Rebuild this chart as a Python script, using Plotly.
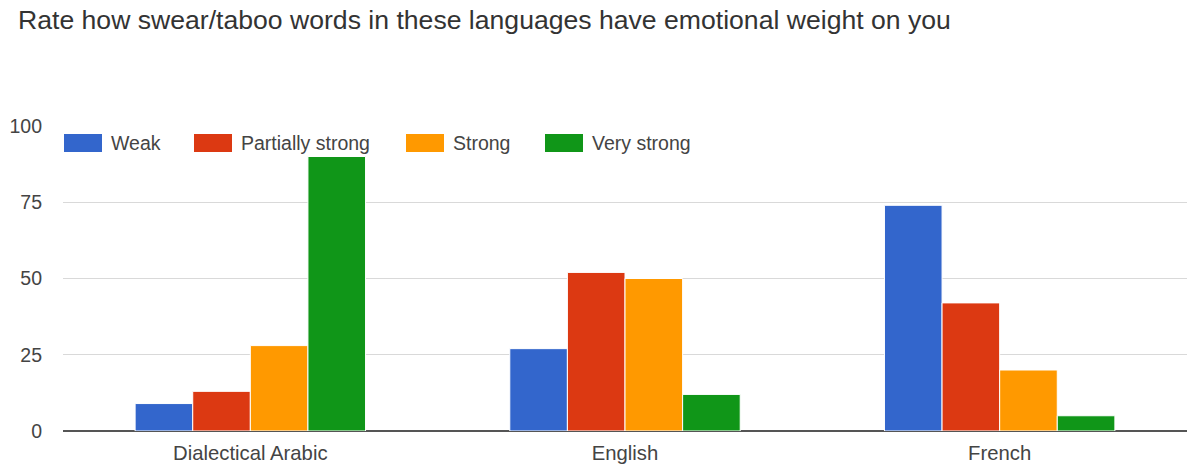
import plotly.graph_objects as go

# Survey responses per language and rating level
languages = ["Dialectical Arabic", "English", "French"]
ratings = ["Weak", "Partially strong", "Strong", "Very strong"]
weak = [9, 27, 74]
partially_strong = [13, 52, 42]
strong = [28, 50, 20]
very_strong = [90, 12, 5]
y_ticks = [0, 25, 50, 75, 100]

colors = ["#3366cc", "#dc3912", "#ff9900", "#109618"]
series = [weak, partially_strong, strong, very_strong]
FONT = "Arial, 'Liberation Sans', sans-serif"

fig = go.Figure()
for name, values, color in zip(ratings, series, colors):
    fig.add_trace(go.Bar(
        name=name, x=languages, y=values,
        marker=dict(color=color, line=dict(color="white", width=1)),
        showlegend=False,
    ))

# Legend drawn as wide swatches along the top gridline
legend_x = [64, 194, 406, 545]
W, H = 1187, 467
ml, mr, mt, mb = 63, 0, 126, 36
shapes = []
annotations = []
for lx, name, color in zip(legend_x, ratings, colors):
    shapes.append(dict(
        type="rect", xref="paper", yref="paper",
        x0=(lx - ml) / (W - ml - mr), x1=(lx + 38 - ml) / (W - ml - mr),
        y0=(H - mb - 152) / (H - mt - mb), y1=(H - mb - 134) / (H - mt - mb),
        fillcolor=color, line=dict(width=0),
    ))
    annotations.append(dict(
        xref="paper", yref="paper", text=name, showarrow=False,
        x=(lx + 45 - ml) / (W - ml - mr), y=(H - mb - 143) / (H - mt - mb),
        xanchor="left", yanchor="middle",
        font=dict(family=FONT, size=19.5, color="#444444"),
    ))

fig.update_layout(
    width=W, height=H,
    margin=dict(l=ml, r=mr, t=mt, b=mb),
    paper_bgcolor="white", plot_bgcolor="white",
    title=dict(
        text="Rate how swear/taboo words in these languages have emotional weight on you",
        x=18 / W, xanchor="left", y=1 - 20 / H, yanchor="middle",
        font=dict(family=FONT, size=26.6, color="#333333"),
    ),
    barmode="group", bargap=0.385, bargroupgap=0.0,
    shapes=shapes, annotations=annotations,
    xaxis=dict(
        showgrid=False, showline=False, ticks="", ticklabelstandoff=8,
        tickfont=dict(family=FONT, size=20.3, color="#444444"),
    ),
    yaxis=dict(
        range=[0, 100], tickvals=y_ticks, showgrid=True,
        gridcolor="#d9d9d9", gridwidth=1,
        zeroline=True, zerolinecolor="#555555", zerolinewidth=1.5,
        showline=False, ticks="", ticklabelstandoff=20,
        tickfont=dict(family=FONT, size=19.5, color="#444444"),
    ),
)

fig.write_html("out.html")
